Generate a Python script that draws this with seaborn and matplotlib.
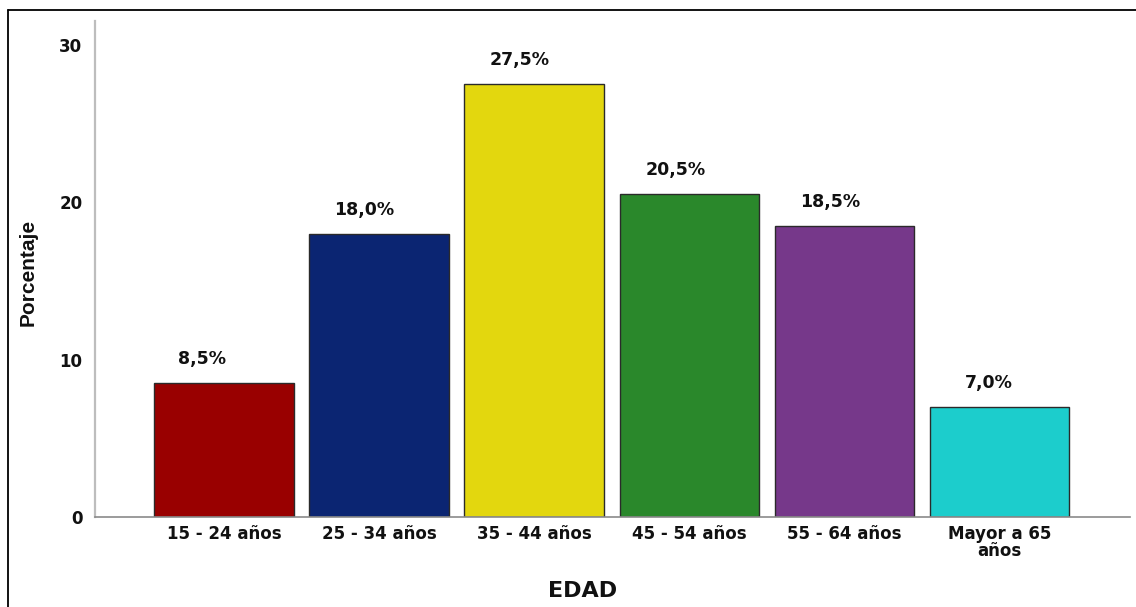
import matplotlib
matplotlib.use("Agg")
import matplotlib.pyplot as plt
import seaborn as sns
import pandas as pd
from matplotlib.lines import Line2D

categories = ["15 - 24 años", "25 - 34 años", "35 - 44 años", "45 - 54 años", "55 - 64 años", "Mayor a 65\naños"]
percentages = [8.5, 18.0, 27.5, 20.5, 18.5, 7.0]
value_labels = ["8,5%", "18,0%", "27,5%", "20,5%", "18,5%", "7,0%"]
colors = ["#990000", "#0b2572", "#e3d70e", "#2a882b", "#76388a", "#1ccdcc"]
y_ticks = [0, 10, 20, 30]
label_dx_px = [-22, -15, -15, -14, -14, -11]

sns.set_theme(style="white")
plt.rcParams['font.family'] = ['DejaVu Sans']

df = pd.DataFrame({"EDAD": categories, "Porcentaje": percentages})

fig = plt.figure(figsize=(11.36, 6.07), dpi=100)
ax = fig.add_axes([95/1136, 90/607, 1035/1136, 496/607])

sns.barplot(data=df, x="EDAD", y="Porcentaje", hue="EDAD", palette=colors,
            width=0.9, edgecolor="#2a2a2a", linewidth=1.0, legend=False, ax=ax,
            saturation=1)

ax.set_xlim(-0.831, 5.84)
ax.set_ylim(0, 31.5)
ax.set_yticks(y_ticks)
ax.set_yticklabels([str(t) for t in y_ticks], fontsize=12, fontweight='bold')
ax.set_xticks(range(len(categories)))
ax.set_xticklabels(categories, fontsize=12, fontweight='bold', linespacing=0.9)
ax.tick_params(axis='both', length=0, colors='#111111')
ax.tick_params(axis='x', pad=6)
ax.tick_params(axis='y', pad=9)

for s in ['top', 'right']:
    ax.spines[s].set_visible(False)
ax.spines['left'].set_color('#bdbdbd')
ax.spines['left'].set_linewidth(1.6)
ax.spines['bottom'].set_color('#8a8a8a')
ax.spines['bottom'].set_linewidth(1.2)

for i, (v, lab) in enumerate(zip(percentages, value_labels)):
    ax.annotate(lab, xy=(i, v), xytext=(label_dx_px[i] * 0.72, 24 * 0.72),
                textcoords='offset points', ha='center', va='center',
                fontsize=12.5, fontweight='bold', color='#111111')

ax.set_xlabel("EDAD", fontsize=16, fontweight='bold', color='#111111', va='center')
ax.xaxis.set_label_coords(0.4715, -0.149)
ax.set_ylabel("Porcentaje", fontsize=15, fontweight='bold', color='#111111',
              family=['Liberation Sans', 'DejaVu Sans'], va='center')
ax.yaxis.set_label_coords(-0.0647, 0.494)

# outer frame lines (top and left)
fig.add_artist(Line2D([8/1136, 1.0], [1 - 10/607, 1 - 10/607], color='black', lw=1.3,
                      transform=fig.transFigure))
fig.add_artist(Line2D([8/1136, 8/1136], [0, 1 - 10/607], color='black', lw=1.3,
                      transform=fig.transFigure))

fig.savefig("out.png", dpi=100)
